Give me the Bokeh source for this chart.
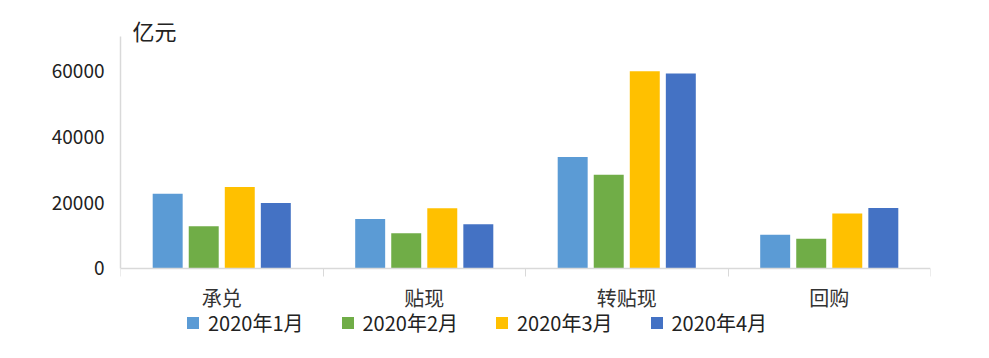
from bokeh.plotting import figure
from bokeh.models import ColumnDataSource, FixedTicker, Range1d, Legend, LegendItem, Label
from bokeh.embed import file_html
from bokeh.resources import INLINE

categories = ["承兑", "贴现", "转贴现", "回购"]
series_names = ["2020年1月", "2020年2月", "2020年3月", "2020年4月"]
jan = [22700, 15000, 33900, 10200]
feb = [12800, 10700, 28500, 9000]
mar = [24800, 18300, 60000, 16700]
apr = [19900, 13400, 59300, 18400]
colors = ["#5B9BD5", "#70AD47", "#FFC000", "#4472C4"]
y_ticks = [0, 20000, 40000, 60000]

FONT = "Noto Sans CJK SC"

p = figure(frame_width=810, frame_height=332, output_backend="svg", toolbar_location=None,
           x_range=Range1d(0, 4), y_range=Range1d(-23500, 77600),
           min_border_left=120, min_border_right=51, min_border_top=13, min_border_bottom=0)
p.outline_line_color = None
p.xgrid.visible = False
p.ygrid.visible = False

centers = [i + 0.5 for i in range(len(categories))]
bar_w = 0.148
step = 0.178
offsets = [(-1.5 + k) * step for k in range(4)]

renderers = []
for k, (vals, col) in enumerate(zip([jan, feb, mar, apr], colors)):
    src = ColumnDataSource(dict(x=[c + offsets[k] for c in centers], top=vals))
    r = p.vbar(x="x", top="top", width=bar_w, source=src, fill_color=col, line_color=None)
    renderers.append(r)

# x axis drawn at y = 0 inside the frame
xa = p.xaxis[0]
xa.fixed_location = 0
xa.ticker = FixedTicker(ticks=centers, minor_ticks=[0, 1, 2, 3, 4])
xa.major_label_overrides = {c: lab for c, lab in zip(centers, categories)}
xa.major_tick_line_color = None
xa.major_tick_out = 0
xa.minor_tick_line_color = "#D9D9D9"
xa.minor_tick_out = 8
xa.minor_tick_in = 0
xa.axis_line_color = "#D9D9D9"
xa.axis_line_width = 1.5
xa.major_label_text_font = FONT
xa.major_label_text_font_size = "20px"
xa.major_label_text_color = "#333333"
xa.major_label_standoff = 7

# y axis
ya = p.yaxis[0]
ya.ticker = FixedTicker(ticks=y_ticks)
ya.bounds = (0, 70500)
ya.major_tick_line_color = None
ya.minor_tick_line_color = None
ya.major_tick_out = 0
ya.axis_line_color = "#D9D9D9"
ya.axis_line_width = 1.5
ya.major_label_text_font = FONT
ya.major_label_text_font_size = "19px"
ya.major_label_text_color = "#222222"
ya.major_label_standoff = 16

# unit label
p.add_layout(Label(x=12, y=316, x_units="screen", y_units="screen", text="亿元",
                   text_font=FONT, text_font_size="22px", text_color="#222222",
                   text_baseline="middle"), "center")

legend = Legend(items=[LegendItem(label=n, renderers=[r]) for n, r in zip(series_names, renderers)],
                orientation="horizontal", location=(65, 8),
                label_text_font=FONT, label_text_font_size="20px", label_text_color="#222222",
                glyph_width=15, glyph_height=15, label_standoff=8, spacing=36,
                border_line_color=None, background_fill_alpha=0,
                padding=2, margin=0)
p.add_layout(legend, "center")

open("out.html", "w").write(file_html(p, INLINE))
